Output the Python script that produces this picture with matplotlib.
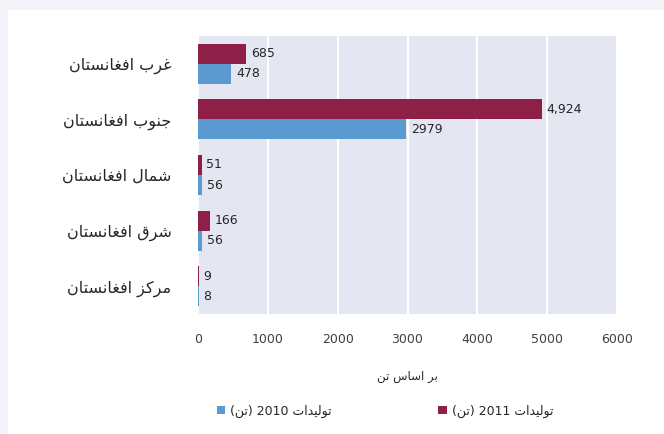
import matplotlib
matplotlib.use("Agg")
import matplotlib.pyplot as plt
from matplotlib.patches import Rectangle
import numpy as np

# ---------------- data ----------------
categories = ["غرب افغانستان", "جنوب افغانستان", "شمال افغانستان", "شرق افغانستان", "مرکز افغانستان"]
prod_2011 = [685, 4924, 51, 166, 9]
prod_2010 = [478, 2979, 56, 56, 8]
labels_2011 = ["685", "4,924", "51", "166", "9"]
labels_2010 = ["478", "2979", "56", "56", "8"]
xticks = [0, 1000, 2000, 3000, 4000, 5000, 6000]
xlabel = "بر اساس تن"
legend_2011 = "تولیدات 2011 (تن)"
legend_2010 = "تولیدات 2010 (تن)"

# ------------- minimal Arabic shaping (matplotlib has no complex text layout) -------------
FORMS = {  # isolated, final, initial, medial
    "\u0627": ("\uFE8D", "\uFE8E", None, None),
    "\u0628": ("\uFE8F", "\uFE90", "\uFE91", "\uFE92"),
    "\u062A": ("\uFE95", "\uFE96", "\uFE97", "\uFE98"),
    "\u062C": ("\uFE9D", "\uFE9E", "\uFE9F", "\uFEA0"),
    "\u062F": ("\uFEA9", "\uFEAA", None, None),
    "\u0631": ("\uFEAD", "\uFEAE", None, None),
    "\u0632": ("\uFEAF", "\uFEB0", None, None),
    "\u0633": ("\uFEB1", "\uFEB2", "\uFEB3", "\uFEB4"),
    "\u0634": ("\uFEB5", "\uFEB6", "\uFEB7", "\uFEB8"),
    "\u063A": ("\uFECD", "\uFECE", "\uFECF", "\uFED0"),
    "\u0641": ("\uFED1", "\uFED2", "\uFED3", "\uFED4"),
    "\u0642": ("\uFED5", "\uFED6", "\uFED7", "\uFED8"),
    "\u0644": ("\uFEDD", "\uFEDE", "\uFEDF", "\uFEE0"),
    "\u0645": ("\uFEE1", "\uFEE2", "\uFEE3", "\uFEE4"),
    "\u0646": ("\uFEE5", "\uFEE6", "\uFEE7", "\uFEE8"),
    "\u0648": ("\uFEED", "\uFEEE", None, None),
    "\u06CC": ("\uFBFC", "\uFBFD", "\uFBFE", "\uFBFF"),
    "\u06A9": ("\uFB8E", "\uFB8F", "\uFB90", "\uFB91"),
}
MIRROR = {"(": ")", ")": "("}


def shape_word(w):
    out = []
    n = len(w)
    for i, c in enumerate(w):
        if c not in FORMS:
            out.append(c)
            continue
        prev = w[i - 1] if i > 0 else None
        nxt = w[i + 1] if i < n - 1 else None
        join_prev = prev in FORMS and FORMS[prev][2] is not None
        join_next = nxt in FORMS and FORMS[c][2] is not None
        iso, fin, ini, med = FORMS[c]
        if join_prev and join_next:
            out.append(med)
        elif join_prev:
            out.append(fin)
        elif join_next:
            out.append(ini)
        else:
            out.append(iso)
    return "".join(out)


def visual(s):
    # split into digit runs (LTR) and other runs (RTL), base direction RTL
    tokens = []
    cur = ""
    cur_digit = None
    for c in s:
        d = c.isdigit()
        if cur and d != cur_digit:
            tokens.append((cur, cur_digit))
            cur = ""
        cur += c
        cur_digit = d
    if cur:
        tokens.append((cur, cur_digit))
    res = []
    for text, is_digit in reversed(tokens):
        if is_digit:
            res.append(text)
        else:
            shaped = shape_word(text)
            res.append("".join(MIRROR.get(c, c) for c in reversed(shaped)))
    return "".join(res)


# ---------------- figure ----------------
c2011 = "#8E2048"
c2010 = "#5B9BD0"
fig = plt.figure(figsize=(6.64, 4.34), dpi=100)
fig.patch.set_facecolor("#F3F4F9")
W, H = 664, 434
fig.patches.append(Rectangle((8 / W, 0), 1, 1 - 10 / H, transform=fig.transFigure,
                             facecolor="white", edgecolor="none", zorder=-5))

ax = fig.add_axes([198 / W, 1 - 314 / H, (617 - 198) / W, (314 - 36) / H])
ax.set_facecolor("#E4E7F1")
for s in ax.spines.values():
    s.set_visible(False)

y = np.arange(len(categories))
h = 0.36
ax.barh(y - h / 2, prod_2011, height=h, color=c2011, zorder=3)
ax.barh(y + h / 2, prod_2010, height=h, color=c2010, zorder=3)
for yi, v, lab in zip(y, prod_2011, labels_2011):
    ax.text(v + 70, yi - h / 2, lab, va="center", ha="left", fontsize=9, color="#262626")
for yi, v, lab in zip(y, prod_2010, labels_2010):
    ax.text(v + 70, yi + h / 2, lab, va="center", ha="left", fontsize=9, color="#262626")

ax.set_xlim(0, 6000)
ax.set_ylim(len(categories) - 0.5, -0.5)
ax.set_xticks(xticks)
ax.set_xticklabels([str(t) for t in xticks], fontsize=9, color="#404040")
ax.set_yticks(y)
ax.set_yticklabels([visual(c) for c in categories], fontsize=11.5, color="#262626",
                   family="DejaVu Sans")
ax.tick_params(axis="x", length=0, pad=14)
ax.tick_params(axis="y", length=0, pad=19)
ax.grid(axis="x", color="white", linewidth=1.5, zorder=1)
ax.set_axisbelow(True)
ax.set_xlabel(visual(xlabel), fontsize=8.5, color="#262626", labelpad=17)

# legend (RTL: 2011 on the right)
h2010 = Rectangle((0, 0), 1, 1, facecolor=c2010)
h2011 = Rectangle((0, 0), 1, 1, facecolor=c2011)
leg = fig.legend([h2010, h2011], [visual(legend_2010), visual(legend_2011)],
                 loc="center", bbox_to_anchor=(385 / W, 1 - 411 / H), ncol=2,
                 frameon=False, fontsize=9, handlelength=0.7, handleheight=0.7,
                 handletextpad=0.4, columnspacing=8.5)
for t in leg.get_texts():
    t.set_color("#262626")

fig.savefig("out.png", dpi=100, facecolor=fig.get_facecolor())
